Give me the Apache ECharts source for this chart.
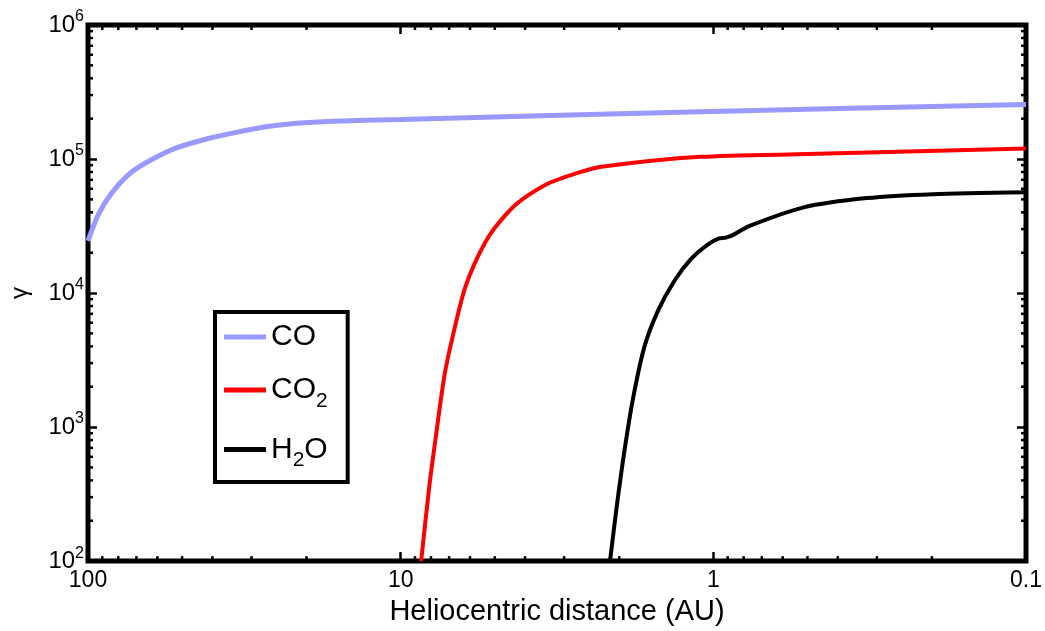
<!DOCTYPE html>
<html>
<head>
<meta charset="utf-8">
<script src="https://cdn.jsdelivr.net/npm/echarts@6/dist/echarts.min.js"></script>
<style>
  html, body { margin: 0; padding: 0; background: #fff; }
  #chart { width: 1045px; height: 631px; }
</style>
</head>
<body>
<div id="chart"></div>
<script>
// heliocentric distance (AU) and gamma
const coDist = [100, 92.7, 84.1, 74.5, 65.9, 52.9, 41.5, 33.3, 26.7, 21.5, 16.4, 10, 1.1, 0.1]
const coGamma = [24500, 38500, 55600, 75900, 92600, 119600, 141700, 158800, 174600, 185000, 191400, 197300, 225300, 255600]

const co2Dist = [8.6, 8.09, 7.71, 7.25, 6.82, 6.26, 5.68, 5.09, 4.29, 3.45, 2.70, 2.28, 1.1, 0.5, 0.1]
const co2Gamma = [100, 370, 865, 2400, 4730, 10470, 18440, 29000, 45600, 64100, 79100, 87600, 103800, 108900, 119600]

const h2oDist = [2.14, 2.04, 1.92, 1.80, 1.66, 1.50, 1.33, 1.18, 1.04, 0.958, 0.912, 0.858, 0.769, 0.514, 0.323, 0.199, 0.1]
const h2oGamma = [100, 249, 690, 1708, 4000, 7450, 12400, 17900, 23100, 25600, 25900, 27400, 31600, 43600, 51100, 54700, 56600]

const xTicks = [0.1, 1, 10, 100]
const xTickLabels = ['0.1', '1', '10', '100']
const yTicks = [100, 1000, 10000, 100000, 1000000]
const yTickLabels = ['10{sup|2}', '10{sup|3}', '10{sup|4}', '10{sup|5}', '10{sup|6}']

const seriesNames = ['CO', 'CO2', 'H2O']
const legendLabels = ['CO', 'CO{sub|2}', 'H{sub|2}O']

// minor ticks 2..9 per decade
const xMinor = []
for (let k = -1; k <= 1; k++) for (let m = 2; m <= 9; m++) xMinor.push(m * Math.pow(10, k))
const yMinor = []
for (let k = 2; k <= 5; k++) for (let m = 2; m <= 9; m++) yMinor.push(m * Math.pow(10, k))

const font = 'Liberation Sans, Arial, Helvetica, sans-serif'

function pickLabel(v, ticks, labels) {
  let best = 0
  ticks.forEach((t, i) => {
    if (Math.abs(Math.log10(t) - Math.log10(v)) < Math.abs(Math.log10(ticks[best]) - Math.log10(v))) best = i
  })
  return labels[best]
}

const pair = (xs, ys) => xs.map((x, i) => [x, ys[i]])

const tickStyle = { color: '#000', width: 2.5 }

const chart = echarts.init(document.getElementById('chart'))

const option = {
  animation: false,
  backgroundColor: '#fff',
  grid: {
    left: 83, right: 18, top: 25, bottom: 64,
    show: true, borderColor: '#000', borderWidth: 5, backgroundColor: 'transparent'
  },
  legend: {
    data: seriesNames,
    orient: 'vertical',
    left: 215, top: 312,
    padding: [10, 20, 11, 9],
    itemGap: 23,
    itemWidth: 42,
    itemHeight: 5,
    icon: 'rect',
    borderColor: '#000', borderWidth: 4,
    backgroundColor: '#fff',
    formatter: name => legendLabels[seriesNames.indexOf(name)],
    textStyle: {
      fontSize: 30, color: '#000', fontFamily: font,
      rich: { sub: { fontSize: 21, color: '#000', fontFamily: font, padding: [22, 0, 0, 0] } }
    }
  },
  xAxis: [{
    type: 'log', logBase: 10, min: 0.1, max: 100, inverse: true,
    name: 'Heliocentric distance (AU)', nameLocation: 'middle', nameGap: 31,
    nameTextStyle: { fontSize: 29, color: '#000', fontFamily: font },
    axisLine: { show: false },
    axisTick: { inside: true, length: 9, lineStyle: tickStyle },
    axisLabel: {
      color: '#000', fontSize: 23, fontFamily: font, margin: 8,
      showMinLabel: true, showMaxLabel: true,
      formatter: v => pickLabel(v, xTicks, xTickLabels)
    },
    splitLine: { show: false }
  }, {
    type: 'log', logBase: 10, min: 0.1, max: 100, inverse: true, position: 'top',
    axisLine: { show: false },
    axisTick: { inside: true, length: 9, lineStyle: tickStyle },
    axisLabel: { show: false },
    splitLine: { show: false }
  }],
  yAxis: [{
    type: 'log', logBase: 10, min: 100, max: 1000000,
    name: 'γ', nameLocation: 'middle', nameGap: 56, nameRotate: 90,
    nameTextStyle: { fontSize: 24, color: '#000', fontFamily: font },
    axisLine: { show: false },
    axisTick: { inside: true, length: 9, lineStyle: tickStyle },
    axisLabel: {
      color: '#000', fontSize: 24, fontFamily: font, margin: 4,
      showMinLabel: true, showMaxLabel: true,
      formatter: v => pickLabel(v, yTicks, yTickLabels),
      rich: { sup: { fontSize: 16, color: '#000', fontFamily: font, padding: [0, 0, 16, 0] } }
    },
    splitLine: { show: false }
  }, {
    type: 'log', logBase: 10, min: 100, max: 1000000, position: 'right',
    axisLine: { show: false },
    axisTick: { inside: true, length: 9, lineStyle: tickStyle },
    axisLabel: { show: false },
    splitLine: { show: false }
  }],
  series: [
    {
      name: 'CO', type: 'line', data: pair(coDist, coGamma),
      showSymbol: false, symbol: 'none', smooth: 0.25,
      color: '#9999ff', lineStyle: { color: '#9999ff', width: 5 }, z: 5
    },
    {
      name: 'CO2', type: 'line', data: pair(co2Dist, co2Gamma),
      showSymbol: false, symbol: 'none', smooth: 0.25,
      color: '#ff0000', lineStyle: { color: '#ff0000', width: 4 }, z: 5
    },
    {
      name: 'H2O', type: 'line', data: pair(h2oDist, h2oGamma),
      showSymbol: false, symbol: 'none', smooth: 0.25,
      color: '#000', lineStyle: { color: '#000', width: 4 }, z: 5
    },
    {
      // minor ticks on bottom and top
      type: 'custom', silent: true, clip: false, z: 3,
      data: xMinor.map(v => [v, 1000]),
      renderItem: (params, api) => {
        const cs = params.coordSys
        const x = api.coord([api.value(0), api.value(1)])[0]
        const b = cs.y + cs.height
        return {
          type: 'group', children: [
            { type: 'line', shape: { x1: x, y1: b, x2: x, y2: b - 5 }, style: { stroke: '#000', lineWidth: 2.5 } },
            { type: 'line', shape: { x1: x, y1: cs.y, x2: x, y2: cs.y + 5 }, style: { stroke: '#000', lineWidth: 2.5 } }
          ]
        }
      }
    },
    {
      // minor ticks on left and right
      type: 'custom', silent: true, clip: false, z: 3,
      data: yMinor.map(v => [1, v]),
      renderItem: (params, api) => {
        const cs = params.coordSys
        const y = api.coord([api.value(0), api.value(1)])[1]
        const r = cs.x + cs.width
        return {
          type: 'group', children: [
            { type: 'line', shape: { x1: cs.x, y1: y, x2: cs.x + 5, y2: y }, style: { stroke: '#000', lineWidth: 2.5 } },
            { type: 'line', shape: { x1: r, y1: y, x2: r - 5, y2: y }, style: { stroke: '#000', lineWidth: 2.5 } }
          ]
        }
      }
    }
  ]
}

chart.setOption(option)
</script>
</body>
</html>
